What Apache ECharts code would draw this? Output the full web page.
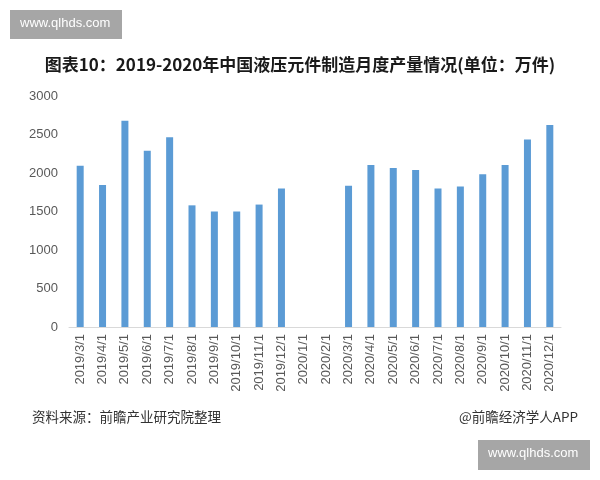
<!DOCTYPE html>
<html>
<head>
<meta charset="utf-8">
<script src="https://cdn.jsdelivr.net/npm/echarts@6/dist/echarts.min.js"></script>
<style>
html,body{margin:0;padding:0;background:#fff;}
#chart{width:600px;height:480px;}
</style>
</head>
<body>
<div id="chart"></div>
<script>
var categories = ['2019/3/1','2019/4/1','2019/5/1','2019/6/1','2019/7/1','2019/8/1','2019/9/1','2019/10/1','2019/11/1','2019/12/1','2020/1/1','2020/2/1','2020/3/1','2020/4/1','2020/5/1','2020/6/1','2020/7/1','2020/8/1','2020/9/1','2020/10/1','2020/11/1','2020/12/1'];
var production = [2095, 1845, 2680, 2290, 2465, 1580, 1500, 1500, 1590, 1800, null, null, 1835, 2105, 2065, 2040, 1800, 1825, 1985, 2105, 2435, 2625];
var yTicks = [0, 500, 1000, 1500, 2000, 2500, 3000];

var titleText = '图表10：2019-2020年中国液压元件制造月度产量情况(单位：万件)';
var sourceText = '资料来源：前瞻产业研究院整理';
var creditText = '@前瞻经济学人APP';
var siteText = 'www.qlhds.com';

var chart = echarts.init(document.getElementById('chart'), null, {renderer: 'canvas'});
var font = '"Microsoft YaHei","Noto Sans CJK SC",sans-serif';
chart.setOption({
  backgroundColor: '#ffffff',
  animation: false,
  title: {
    text: titleText,
    left: 'center',
    top: 51,
    textStyle: {fontSize: 17, fontWeight: 'bold', color: '#1a1a1a', fontFamily: font}
  },
  grid: {left: 69, right: 39, top: 96, bottom: 153, containLabel: false},
  xAxis: {
    type: 'category',
    data: categories,
    axisLine: {show: true, lineStyle: {color: '#d9d9d9', width: 1}},
    axisTick: {show: false},
    axisLabel: {rotate: 90, interval: 0, color: '#595959', fontSize: 13, margin: 7, fontFamily: 'Arial, "Liberation Sans", sans-serif'}
  },
  yAxis: {
    type: 'value',
    min: yTicks[0],
    max: yTicks[yTicks.length - 1],
    interval: yTicks[1] - yTicks[0],
    axisLine: {show: false},
    axisTick: {show: false},
    splitLine: {show: false},
    axisLabel: {color: '#595959', fontSize: 13, margin: 11, fontFamily: 'Arial, "Liberation Sans", sans-serif',
      formatter: function (v) { return String(v); }}
  },
  series: [{
    type: 'bar',
    data: production,
    barWidth: 7,
    itemStyle: {color: '#5b9bd5'}
  }],
  graphic: [
    {type: 'rect', left: 10, top: 10, shape: {width: 112, height: 29}, style: {fill: '#a6a6a6'}},
    {type: 'text', left: 20, top: 17, style: {text: siteText, fill: '#ffffff', fontSize: 13, fontFamily: 'Arial, sans-serif'}},
    {type: 'rect', left: 478, top: 440, shape: {width: 112, height: 30}, style: {fill: '#a6a6a6'}},
    {type: 'text', left: 488, top: 447, style: {text: siteText, fill: '#ffffff', fontSize: 13, fontFamily: 'Arial, sans-serif'}},
    {type: 'text', left: 32, top: 410, style: {text: sourceText, fill: '#333333', fontSize: 13.5, fontFamily: font}},
    {type: 'text', right: 22, top: 410, style: {text: creditText, fill: '#333333', fontSize: 13.5, fontFamily: font}}
  ]
});
</script>
</body>
</html>
